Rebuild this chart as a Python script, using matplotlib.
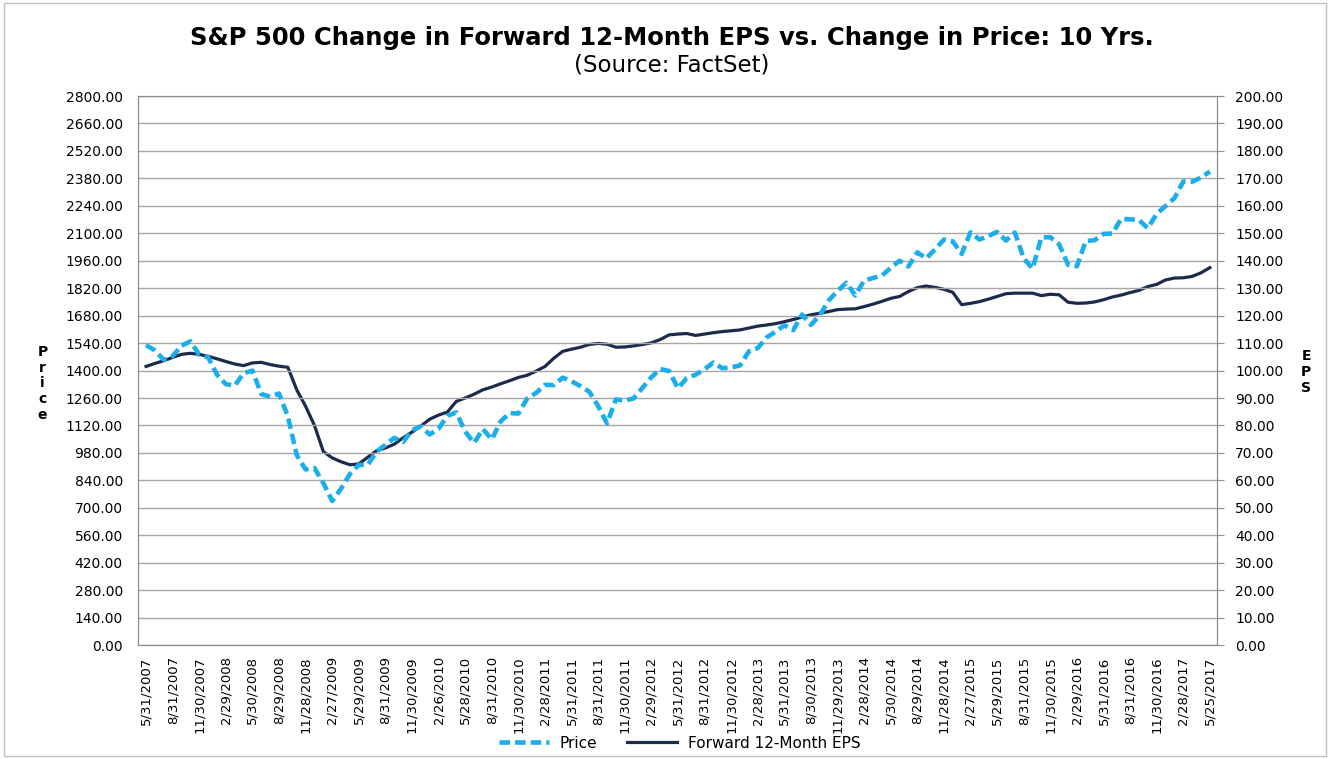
import numpy as np
import matplotlib
matplotlib.use("Agg")
import matplotlib.pyplot as plt
from matplotlib.patches import Rectangle

plt.rcParams['font.family'] = ['DejaVu Sans']

# monthly points, 5/2007 .. 5/2017
price = [1530, 1503, 1455, 1474, 1527, 1549, 1481, 1468,
         1379, 1331, 1323, 1386, 1400, 1280, 1267, 1283, 1166, 969, 896, 903,
         826, 735, 798, 873, 919, 919, 987, 1021, 1057, 1036, 1096, 1115,
         1074, 1104, 1169, 1187, 1089, 1031, 1102, 1049, 1141, 1183, 1181, 1258,
         1286, 1327, 1326, 1364, 1345, 1321, 1292, 1219, 1131, 1253, 1247, 1258,
         1312, 1366, 1408, 1398, 1310, 1362, 1379, 1407, 1441, 1412, 1416, 1426,
         1498, 1515, 1569, 1598, 1631, 1606, 1686, 1633, 1682, 1757, 1806, 1848,
         1783, 1859, 1872, 1884, 1924, 1960, 1931, 2003, 1972, 2018, 2068, 2059,
         1995, 2105, 2068, 2086, 2107, 2063, 2104, 1972, 1920, 2079, 2080, 2044,
         1940, 1932, 2060, 2065, 2097, 2099, 2174, 2171, 2168, 2126, 2199, 2239,
         2279, 2364, 2363, 2384, 2415]

eps = [101.5, 102.6, 103.6, 104.8, 105.9, 106.3, 105.9, 105.2, 104.3, 103.3,
       102.4, 101.8, 102.8, 103.0, 102.2, 101.6, 101.2, 93.0, 87.0, 80.0,
       70.5, 68.2, 66.8, 65.7, 66.0, 68.4, 70.8, 71.8, 73.2, 75.5,
       77.6, 79.8, 82.3, 83.8, 84.9, 88.8, 90.0, 91.4, 93.0, 94.0,
       95.2, 96.3, 97.5, 98.3, 99.8, 101.5, 104.5, 107.0, 107.8, 108.5,
       109.5, 109.9, 109.6, 108.5, 108.6, 109.0, 109.5, 110.1, 111.3, 113.0,
       113.3, 113.5, 112.8, 113.3, 113.8, 114.2, 114.5, 114.8, 115.5, 116.2,
       116.6, 117.1, 117.8, 118.6, 119.5, 120.3, 120.9, 121.5, 122.2, 122.4,
       122.5, 123.3, 124.2, 125.2, 126.3, 127.0, 128.8, 130.2, 130.8, 130.3,
       129.6, 128.5, 124.0, 124.5, 125.1, 126.0, 127.0, 128.0, 128.2, 128.2,
       128.2, 127.3, 127.8, 127.6, 124.9, 124.5, 124.6, 125.0, 125.8, 126.8,
       127.5, 128.4, 129.2, 130.6, 131.4, 133.0, 133.7, 133.8, 134.3, 135.6,
       137.5]

date_labels = ['5/31/2007', '8/31/2007', '11/30/2007', '2/29/2008', '5/30/2008',
               '8/29/2008', '11/28/2008', '2/27/2009', '5/29/2009', '8/31/2009',
               '11/30/2009', '2/26/2010', '5/28/2010', '8/31/2010', '11/30/2010',
               '2/28/2011', '5/31/2011', '8/31/2011', '11/30/2011', '2/29/2012',
               '5/31/2012', '8/31/2012', '11/30/2012', '2/28/2013', '5/31/2013',
               '8/30/2013', '11/29/2013', '2/28/2014', '5/30/2014', '8/29/2014',
               '11/28/2014', '2/27/2015', '5/29/2015', '8/31/2015', '11/30/2015',
               '2/29/2016', '5/31/2016', '8/31/2016', '11/30/2016', '2/28/2017',
               '5/25/2017']

price_color = '#1AAEEA'
eps_color = '#1C2A4E'
grid_color = '#A6A6A6'

fig = plt.figure(figsize=(13.3, 7.59), dpi=100)
fig.patches.append(Rectangle((0.003, 0.004), 0.994, 0.992, transform=fig.transFigure,
                             fill=False, edgecolor='#BFBFBF', lw=1))

ax = fig.add_axes([0.1038, 0.150, 0.8112, 0.7235])
ax2 = ax.twinx()

x = np.arange(len(price))
ax.plot(x, price, color=price_color, lw=3.3, linestyle=(0, (2.3, 1.1)),
        label='Price', zorder=3)
ax2.plot(x, eps, color=eps_color, lw=2.3, label='Forward 12-Month EPS', zorder=3)

ax.set_xlim(-0.9, len(price) - 0.2)
ax.set_ylim(0, 2800)
ax2.set_ylim(0, 200)
ax.set_yticks(np.arange(0, 2801, 140))
ax2.set_yticks(np.arange(0, 201, 10))
ax.set_yticklabels(['%.2f' % v for v in np.arange(0, 2801, 140)])
ax2.set_yticklabels(['%.2f' % v for v in np.arange(0, 201, 10)])

tick_pos = np.arange(0, len(price), 3)
ax.set_xticks(tick_pos)
ax.set_xticklabels(date_labels, rotation=90, fontsize=9.5)

ax.grid(axis='y', color=grid_color, lw=1)
ax.set_axisbelow(True)
for a in (ax, ax2):
    for s in a.spines.values():
        s.set_color('#8C8C8C')
ax.tick_params(axis='y', labelsize=10, length=0, pad=11)
ax2.tick_params(axis='y', labelsize=10, length=5, pad=8, color='#8C8C8C')
ax.tick_params(axis='x', length=0, pad=8)
ax.set_zorder(ax2.get_zorder() + 1)
ax.patch.set_visible(False)

fig.text(0.032, 0.495, 'P\nr\ni\nc\ne', fontsize=10, fontweight='bold',
         ha='center', va='center', linespacing=1.15)
fig.text(0.982, 0.51, 'E\nP\nS', fontsize=10, fontweight='bold',
         ha='center', va='center', linespacing=1.15)

fig.text(0.505, 0.950, 'S&P 500 Change in Forward 12-Month EPS vs. Change in Price: 10 Yrs.',
         fontsize=17.5, fontweight='bold', ha='center', va='center')
fig.text(0.505, 0.915, '(Source: FactSet)', fontsize=16.5, ha='center', va='center')

h1, l1 = ax.get_legend_handles_labels()
h2, l2 = ax2.get_legend_handles_labels()
fig.legend(h1 + h2, l1 + l2, loc='center', bbox_to_anchor=(0.511, 0.021), ncol=2,
           frameon=False, fontsize=11, handlelength=3.3, handletextpad=0.7,
           columnspacing=1.9)

fig.savefig('out.png', dpi=100)
